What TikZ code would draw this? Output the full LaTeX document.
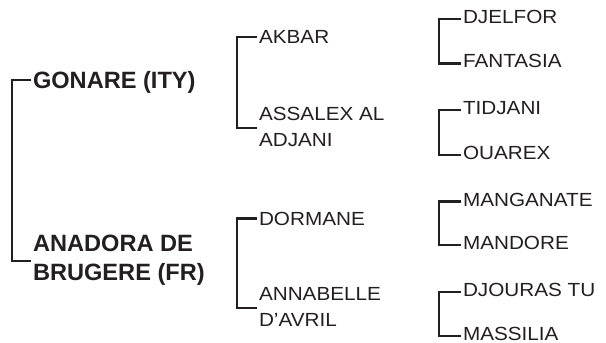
\documentclass[tikz,border=0pt]{standalone}
\usepackage{fontspec}
\setmainfont{Liberation Sans}
\newfontfamily\regfont[FakeStretch=1.09]{Liberation Sans}
\definecolor{ink}{HTML}{231F20}
\begin{document}
\begin{tikzpicture}[x=1pt,y=-1pt,
  lab/.style={anchor=base west,inner sep=0pt,outer sep=0pt,text=ink,align=left},
  gone/.style={lab,font=\fontsize{23.6}{29}\selectfont\bfseries},
  gtwo/.style={lab,font=\fontsize{19}{26}\selectfont\regfont},
  brk/.style={draw=ink,line width=2.2pt,line cap=butt,line join=miter},
  brkone/.style={brk,line width=2.6pt}]
\useasboundingbox (0,0) rectangle (606,343);
% generation 1 (multi-line nodes are anchored at the baseline of their last line)
\node[gone] (gonare) at (33,88.5) {GONARE (ITY)};
\node[gone] (anadora) at (33,280) {ANADORA DE\\BRUGERE (FR)};
\coordinate (tg) at (31,80);
\coordinate (ta) at (31,261);
\coordinate (b1) at (12,0);
\draw[brkone] (tg) -- (tg -| b1) -- (ta -| b1) -- (ta);
% generation 2
\node[gtwo] (akbar) at (259,43.5) {AKBAR};
\node[gtwo] (assalex) at (259,146) {ASSALEX AL\\ADJANI};
\node[gtwo] (dormane) at (259,225) {DORMANE};
\node[gtwo] (annabelle) at (259,326) {ANNABELLE\\D’AVRIL};
\coordinate (b2) at (237,0);
\coordinate (tak) at (257,37);
\coordinate (tas) at (257,128);
\coordinate (tdo) at (257,218.5);
\coordinate (tan) at (257,308);
\draw[brk] (tak) -- (tak -| b2) -- (tas -| b2) -- (tas);
\draw[brk] (tdo) -- (tdo -| b2) -- (tan -| b2) -- (tan);
% generation 3
\node[gtwo] (djelfor) at (463,23.5) {DJELFOR};
\node[gtwo] (fantasia) at (463,67.5) {FANTASIA};
\node[gtwo] (tidjani) at (463,114.5) {TIDJANI};
\node[gtwo] (ouarex) at (463,159.5) {OUAREX};
\node[gtwo] (manganate) at (463,206) {MANGANATE};
\node[gtwo] (mandore) at (463,249.5) {MANDORE};
\node[gtwo] (djouras) at (463,296.5) {DJOURAS TU};
\node[gtwo] (massilia) at (463,340.5) {MASSILIA};
\coordinate (b3) at (439,0);
\coordinate (tdj) at (461,19);
\coordinate (tfa) at (461,63.5);
\coordinate (tti) at (461,110);
\coordinate (tou) at (461,155);
\coordinate (tma) at (461,201.5);
\coordinate (tmd) at (461,245);
\coordinate (tds) at (461,292);
\coordinate (tms) at (461,336);
\draw[brk] (tdj) -- (tdj -| b3) -- (tfa -| b3) -- (tfa);
\draw[brk] (tti) -- (tti -| b3) -- (tou -| b3) -- (tou);
\draw[brk] (tma) -- (tma -| b3) -- (tmd -| b3) -- (tmd);
\draw[brk] (tds) -- (tds -| b3) -- (tms -| b3) -- (tms);
\end{tikzpicture}
\end{document}
